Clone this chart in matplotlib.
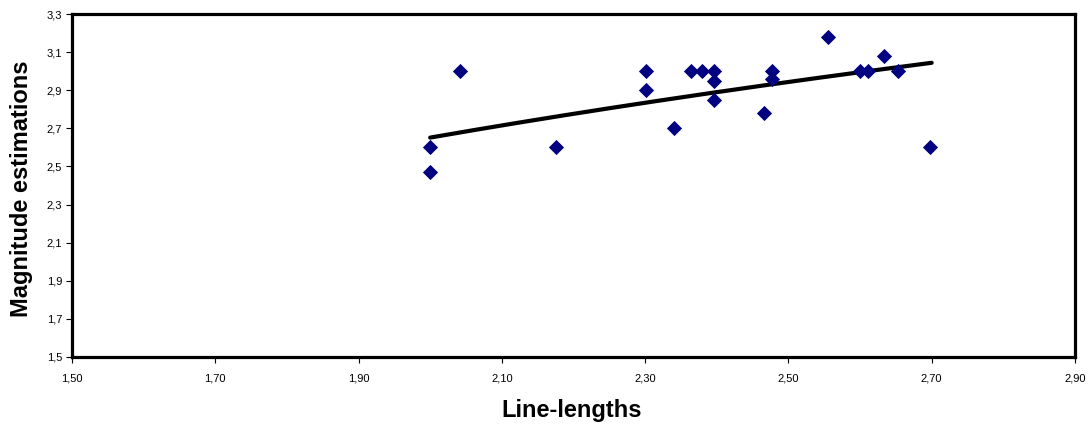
import numpy as np
import matplotlib
matplotlib.use("Agg")
import matplotlib.pyplot as plt

plt.rcParams['font.family'] = ['Liberation Sans', 'DejaVu Sans']

# data
line_lengths = [2.00, 2.00, 2.042, 2.176, 2.301, 2.301, 2.34, 2.364, 2.379, 2.396, 2.396, 2.396,
                2.466, 2.477, 2.477, 2.555, 2.60, 2.611, 2.633, 2.653, 2.698]
magnitudes = [2.60, 2.47, 3.00, 2.60, 3.00, 2.90, 2.70, 3.00, 3.00, 3.00, 2.95, 2.85,
              2.78, 3.00, 2.96, 3.18, 3.00, 3.00, 3.08, 3.00, 2.60]
# logarithmic trendline
trend_x = [2.00, 2.15, 2.30, 2.50, 2.70]
trend_y = [2.645, 2.756, 2.833, 2.945, 3.042]
x_ticks = [1.50, 1.70, 1.90, 2.10, 2.30, 2.50, 2.70, 2.90]
y_ticks = [1.5, 1.7, 1.9, 2.1, 2.3, 2.5, 2.7, 2.9, 3.1, 3.3]

fig = plt.figure(figsize=(10.89, 4.28), dpi=100)
ax = fig.add_axes([0.0661, 0.166, 0.921, 0.801])

ax.scatter(line_lengths, magnitudes, marker='D', s=60, color='#000080', zorder=3, linewidths=0)

# smooth log curve through the sampled trend values
b, a = np.polyfit(np.log(trend_x), trend_y, 1)
xs = np.linspace(trend_x[0], trend_x[-1], 200)
ax.plot(xs, a + b * np.log(xs), color='black', lw=3, zorder=2, solid_capstyle='round')

ax.set_xlim(1.50, 2.90)
ax.set_ylim(1.5, 3.3)
ax.set_xticks(x_ticks)
ax.set_xticklabels([f"{v:.2f}".replace('.', ',') for v in x_ticks])
ax.set_yticks(y_ticks)
ax.set_yticklabels([f"{v:.1f}".replace('.', ',') for v in y_ticks])
ax.tick_params(labelsize=8, length=4, width=0.8, direction='out', pad=8)
ax.tick_params(axis='y', pad=3)
for s in ax.spines.values():
    s.set_linewidth(2.3)

ax.set_xlabel('Line-lengths', fontsize=17, fontweight='bold')
ax.xaxis.set_label_coords(0.498, -0.122)
ax.set_ylabel('Magnitude estimations', fontsize=17, fontweight='bold')
ax.yaxis.set_label_coords(-0.039, 0.49)

fig.savefig('out.png', dpi=100)
